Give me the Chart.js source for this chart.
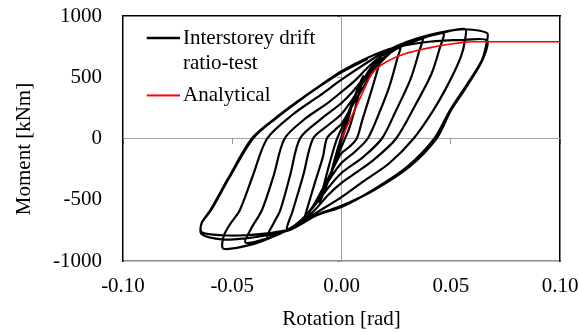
<!DOCTYPE html>
<html><head><meta charset="utf-8">
<script src="https://cdn.jsdelivr.net/npm/chart.js@4.4.1/dist/chart.umd.min.js"></script>
<style>html,body{margin:0;padding:0;background:#fff}</style>
</head><body>
<canvas id="c" width="579" height="332"></canvas>
<script>
const xTickValues = [-0.10, -0.05, 0, 0.05, 0.10];
const xTickLabels = ['-0.10', '-0.05', '0.00', '0.05', '0.10'];
const yTickValues = [-1000, -500, 0, 500, 1000];
const yTickLabels = ['-1000', '-500', '0', '500', '1000'];
const seriesNames = [['Interstorey drift', 'ratio-test'], 'Analytical'];
const axisTitles = ['Rotation [rad]', 'Moment [kNm]'];

const testRotation = [
  0, 0.0025, 0.005,
  0.0025, 0.0003, -0.0025, -0.005,
  -0.0025, -0.0003, 0.0025, 0.005, 0.0075, 0.01,
  0.0085, 0.006, 0.0035, 0.0016, -0.001, -0.004, -0.007, -0.01,
  -0.0085, -0.006, -0.0035, -0.002, 0, 0.004, 0.008, 0.012, 0.015, 0.018,
  0.0165, 0.013, 0.0095, 0.007, 0.0035, 0, -0.004, -0.008, -0.012, -0.015, -0.017,
  -0.0155, -0.012, -0.0085, -0.0067, -0.003, 0, 0.005, 0.01, 0.015, 0.02, 0.027,
  0.0255, 0.022, 0.0175, 0.012, 0.006, 0, -0.005, -0.01, -0.015, -0.02, -0.025,
  -0.0225, -0.0175, -0.013, -0.006, 0, 0.005, 0.01, 0.015, 0.02, 0.027, 0.037,
  0.0355, 0.0315, 0.025, 0.0185, 0.01, 0, -0.006, -0.012, -0.018, -0.025, -0.034,
  -0.031, -0.028, -0.0235, -0.019, -0.01, 0, 0.006, 0.012, 0.018, 0.025, 0.033, 0.0465,
  0.045, 0.041, 0.034, 0.025, 0.015, 0.007, 0, -0.006, -0.012, -0.018, -0.026, -0.035, -0.044,
  -0.0415, -0.0364, -0.031, -0.026, -0.016, -0.007, 0, 0.006, 0.012, 0.018, 0.026, 0.035, 0.046, 0.0565,
  0.0565, 0.0545, 0.049, 0.042, 0.033, 0.022, 0.01, 0, -0.01, -0.02, -0.03, -0.04, -0.054,
  -0.054, -0.051, -0.0465, -0.0405, -0.034, -0.022, -0.01, 0, 0.01, 0.02, 0.03, 0.04, 0.048, 0.0565, 0.0666,
  0.0666, 0.0643, 0.057, 0.0497, 0.0425, 0.03, 0.0144, 0, -0.011, -0.0236, -0.034, -0.044, -0.054, -0.064,
  -0.064, -0.06, -0.052, -0.041, -0.03, -0.02, -0.01, 0, 0.012, 0.024, 0.04, 0.0565, 0.0666,
  0.0645, 0.0575, 0.0502, 0.0435, 0.031, 0.015, 0, -0.011, -0.0236, -0.034, -0.044, -0.054, -0.064,
  -0.064, -0.0595, -0.0515, -0.0405, -0.03, -0.02, -0.01, 0, 0.012
];
const testMoment = [
  0, 140, 300,
  120, 0, -140, -300,
  -130, 0, 150, 290, 410, 510,
  400, 230, 80, 0, -110, -250, -390, -520,
  -410, -240, -80, 0, 80, 250, 410, 540, 610, 660,
  560, 350, 150, 0, -70, -120, -250, -390, -520, -610, -660,
  -560, -350, -150, 0, 70, 120, 270, 420, 560, 660, 760,
  650, 430, 220, 0, -110, -200, -320, -470, -600, -690, -740,
  -600, -300, 0, 110, 200, 320, 460, 580, 670, 750, 825,
  710, 480, 230, 0, -150, -282, -400, -540, -660, -750, -810,
  -690, -584, -300, 0, 150, 290, 400, 530, 640, 730, 790, 860,
  740, 520, 280, 0, -170, -275, -363, -460, -580, -680, -760, -820, -850,
  -740, -584, -300, 0, 170, 280, 380, 470, 580, 670, 750, 810, 862, 894,
  800, 660, 450, 230, 0, -200, -350, -478, -590, -700, -790, -860, -900,
  -800, -700, -584, -300, 0, 200, 350, 480, 600, 710, 790, 845, 875, 892, 861,
  796, 641, 430, 233, 0, -232, -420, -559, -625, -747, -790, -815, -825, -780,
  -690, -584, -330, 0, 170, 305, 430, 550, 660, 740, 790, 805, 800,
  640, 430, 233, 0, -232, -420, -550, -620, -740, -775, -790, -790, -765,
  -690, -580, -325, 0, 165, 300, 425, 540, 650
];
const analyticalRotation = [0, 0.0134, 0.016, 0.019, 0.022, 0.025, 0.03, 0.035, 0.04, 0.045, 0.05, 0.055, 0.059, 0.10];
const analyticalMoment = [0, 520, 572, 610, 640, 665, 697, 720, 740, 757, 771, 783, 790, 790];

function pairs(xs, ys) { return xs.map((x, i) => ({x: x, y: ys[i]})); }
function swatch(color, width) {
  const c = document.createElement('canvas');
  c.width = 57; c.height = 4;
  const g = c.getContext('2d');
  g.strokeStyle = color; g.lineWidth = width;
  g.beginPath(); g.moveTo(24, 2); g.lineTo(57, 2); g.stroke();
  return c;
}

Chart.defaults.font.family = '"Liberation Serif", "Times New Roman", serif';
Chart.defaults.font.size = 21;
Chart.defaults.color = '#000';

const setX = s => { s.ticks = xTickValues.map(v => ({value: v})); };
const setY = s => { s.ticks = yTickValues.map(v => ({value: v})); };

new Chart(document.getElementById('c'), {
  type: 'scatter',
  data: {
    datasets: [
      {
        label: seriesNames[0],
        data: pairs(testRotation, testMoment),
        showLine: true, borderColor: '#000', borderWidth: 2.2, pointRadius: 0,
        tension: 0.3, order: 1, pointStyle: swatch('#000', 2.5),
        xAxisID: 'x', yAxisID: 'y'
      },
      {
        label: seriesNames[1],
        data: pairs(analyticalRotation, analyticalMoment),
        showLine: true, borderColor: '#ff0000', borderWidth: 1.6, pointRadius: 0,
        tension: 0, order: 0, pointStyle: swatch('#ff0000', 1.8),
        xAxisID: 'x', yAxisID: 'y'
      }
    ]
  },
  options: {
    responsive: false, animation: false, devicePixelRatio: 1, events: [],
    layout: { padding: { top: 16, right: 19, left: 0, bottom: 0 } },
    plugins: {
      tooltip: { enabled: false },
      legend: {
        position: 'chartArea', align: 'start', fullSize: false,
        title: { display: true, text: ' ', font: { size: 10 }, padding: { top: 8.5, bottom: 0 } },
        labels: {
          usePointStyle: true, pointStyleWidth: 42.5, padding: 7,
          color: '#000', font: { size: 21 },
          sort: (a, b) => a.datasetIndex - b.datasetIndex
        }
      }
    },
    scales: {
      x: {
        type: 'linear', position: 'bottom', min: -0.1, max: 0.1,
        afterBuildTicks: setX,
        afterFit: s => { s.height = 71; s.paddingLeft = 0; s.paddingRight = 0; },
        grid: { display: false, drawTicks: false },
        border: { display: true, color: '#8c8c8c', width: 1.5 },
        ticks: { padding: 13, callback: (v, i) => xTickLabels[i], maxRotation: 0, autoSkip: false },
        title: { display: true, text: axisTitles[0], padding: { top: 0, bottom: 0 } }
      },
      y: {
        type: 'linear', position: 'left', min: -1000, max: 1000,
        afterBuildTicks: setY,
        afterFit: s => { s.width = 123; s.paddingTop = 0; s.paddingBottom = 0; },
        grid: { display: false, drawTicks: false },
        border: { display: true, color: '#000', width: 1.5 },
        ticks: { padding: 21, callback: (v, i) => yTickLabels[i], autoSkip: false },
        title: { display: true, text: axisTitles[1] + '    ', padding: { top: 12, bottom: 0 } }
      },
      xTop: {
        type: 'linear', axis: 'x', position: 'top', min: -0.1, max: 0.1,
        grid: { display: false, drawTicks: false },
        border: { display: true, color: '#000', width: 1.5 },
        ticks: { display: false }
      },
      yRight: {
        type: 'linear', axis: 'y', position: 'right', min: -1000, max: 1000,
        grid: { display: false, drawTicks: false },
        border: { display: true, color: '#000', width: 1.5 },
        ticks: { display: false }
      },
      xZero: {
        type: 'linear', axis: 'x', position: { y: 0 }, min: -0.1, max: 0.1,
        afterBuildTicks: setX,
        grid: { display: true, drawOnChartArea: false, drawTicks: true, tickLength: 5, color: '#999' },
        border: { display: true, color: '#a0a0a0', width: 1 },
        ticks: { display: false }
      },
      yZero: {
        type: 'linear', axis: 'y', position: { x: 0 }, min: -1000, max: 1000,
        afterBuildTicks: setY,
        grid: { display: true, drawOnChartArea: false, drawTicks: true, tickLength: 4, color: '#999' },
        border: { display: true, color: '#a0a0a0', width: 1 },
        ticks: { display: false }
      }
    }
  }
});
</script>
</body></html>
